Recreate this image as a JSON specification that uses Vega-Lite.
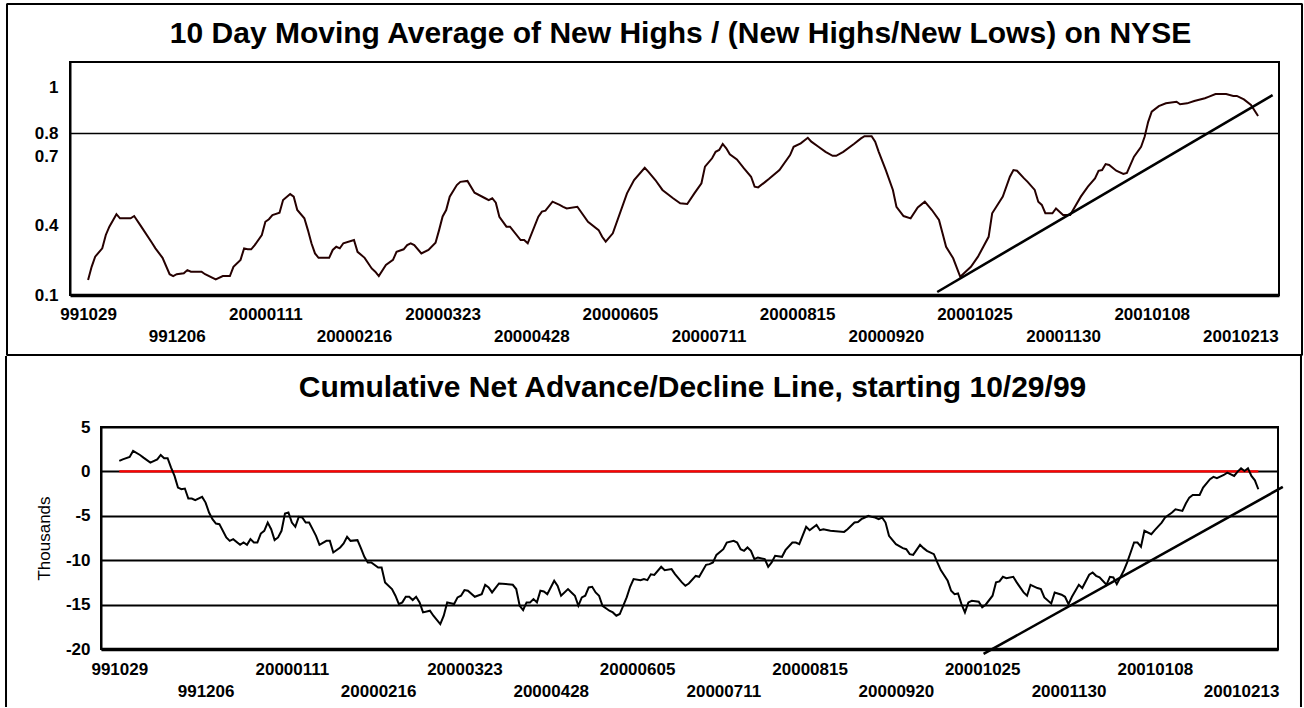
{
  "$schema": "https://vega.github.io/schema/vega-lite/v6.json",
  "background": "white",
  "padding": {"left": 3, "top": 1, "right": 0, "bottom": 0},
  "spacing": -4,
  "config": {
    "font": "Liberation Sans",
    "view": {"stroke": "black", "strokeWidth": 2},
    "axis": {
      "labelFont": "Liberation Sans",
      "labelFontSize": 17,
      "labelFontWeight": "bold",
      "labelColor": "black",
      "domainColor": "black",
      "ticks": false,
      "tickSize": 0,
      "grid": false,
      "labelOverlap": false,
      "labelFlush": false
    },
    "title": {"font": "Liberation Sans", "fontSize": 30, "fontWeight": "bold", "color": "black", "anchor": "middle", "frame": "group"}
  },
  "datasets": {
    "hl": [
      {"i":0,"v":0.165},{"i":1,"v":0.222},{"i":2,"v":0.266},{"i":4,"v":0.302},{"i":5,"v":0.36},{"i":6,"v":0.396},{"i":8,"v":0.45},{"i":9,"v":0.432},{"i":12,"v":0.432},{"i":13,"v":0.442},{"i":15,"v":0.396},{"i":18,"v":0.326},{"i":19,"v":0.302},{"i":21,"v":0.261},{"i":23,"v":0.19},{"i":24,"v":0.182},{"i":25,"v":0.19},{"i":27,"v":0.194},{"i":28,"v":0.208},{"i":29,"v":0.201},{"i":32,"v":0.201},{"i":33,"v":0.19},{"i":36,"v":0.168},{"i":38,"v":0.182},{"i":40,"v":0.182},{"i":41,"v":0.222},{"i":43,"v":0.252},{"i":44,"v":0.302},{"i":45,"v":0.298},{"i":46,"v":0.298},{"i":47,"v":0.316},{"i":49,"v":0.36},{"i":50,"v":0.417},{"i":51,"v":0.428},{"i":52,"v":0.446},{"i":54,"v":0.456},{"i":55,"v":0.511},{"i":57,"v":0.537},{"i":58,"v":0.526},{"i":59,"v":0.468},{"i":61,"v":0.432},{"i":62,"v":0.381},{"i":63,"v":0.324},{"i":64,"v":0.28},{"i":65,"v":0.261},{"i":68,"v":0.261},{"i":69,"v":0.295},{"i":70,"v":0.309},{"i":71,"v":0.302},{"i":72,"v":0.324},{"i":75,"v":0.338},{"i":76,"v":0.287},{"i":78,"v":0.261},{"i":80,"v":0.215},{"i":81,"v":0.201},{"i":82,"v":0.182},{"i":84,"v":0.23},{"i":86,"v":0.252},{"i":87,"v":0.287},{"i":89,"v":0.298},{"i":90,"v":0.316},{"i":91,"v":0.324},{"i":92,"v":0.316},{"i":94,"v":0.28},{"i":96,"v":0.295},{"i":98,"v":0.326},{"i":99,"v":0.381},{"i":100,"v":0.44},{"i":101,"v":0.468},{"i":102,"v":0.526},{"i":104,"v":0.576},{"i":105,"v":0.59},{"i":107,"v":0.594},{"i":109,"v":0.543},{"i":112,"v":0.519},{"i":113,"v":0.511},{"i":114,"v":0.519},{"i":115,"v":0.5},{"i":116,"v":0.439},{"i":118,"v":0.396},{"i":119,"v":0.396},{"i":122,"v":0.338},{"i":123,"v":0.338},{"i":124,"v":0.324},{"i":127,"v":0.439},{"i":128,"v":0.461},{"i":129,"v":0.465},{"i":131,"v":0.504},{"i":133,"v":0.49},{"i":134,"v":0.482},{"i":135,"v":0.475},{"i":138,"v":0.482},{"i":141,"v":0.417},{"i":144,"v":0.381},{"i":145,"v":0.352},{"i":146,"v":0.331},{"i":148,"v":0.367},{"i":152,"v":0.54},{"i":154,"v":0.598},{"i":157,"v":0.651},{"i":158,"v":0.634},{"i":160,"v":0.598},{"i":162,"v":0.555},{"i":165,"v":0.519},{"i":167,"v":0.497},{"i":169,"v":0.494},{"i":171,"v":0.54},{"i":173,"v":0.584},{"i":174,"v":0.656},{"i":176,"v":0.692},{"i":177,"v":0.72},{"i":178,"v":0.728},{"i":179,"v":0.754},{"i":180,"v":0.735},{"i":181,"v":0.709},{"i":183,"v":0.687},{"i":185,"v":0.648},{"i":187,"v":0.612},{"i":188,"v":0.569},{"i":189,"v":0.566},{"i":191,"v":0.59},{"i":192,"v":0.602},{"i":195,"v":0.641},{"i":198,"v":0.706},{"i":199,"v":0.742},{"i":201,"v":0.757},{"i":203,"v":0.781},{"i":204,"v":0.764},{"i":206,"v":0.742},{"i":208,"v":0.72},{"i":210,"v":0.703},{"i":211,"v":0.703},{"i":213,"v":0.72},{"i":216,"v":0.754},{"i":218,"v":0.778},{"i":219,"v":0.788},{"i":221,"v":0.788},{"i":222,"v":0.764},{"i":223,"v":0.72},{"i":225,"v":0.641},{"i":227,"v":0.555},{"i":228,"v":0.482},{"i":230,"v":0.442},{"i":232,"v":0.432},{"i":234,"v":0.479},{"i":236,"v":0.504},{"i":238,"v":0.468},{"i":240,"v":0.425},{"i":241,"v":0.367},{"i":242,"v":0.309},{"i":244,"v":0.259},{"i":246,"v":0.179},{"i":249,"v":0.222},{"i":251,"v":0.266},{"i":254,"v":0.352},{"i":255,"v":0.454},{"i":258,"v":0.526},{"i":260,"v":0.612},{"i":261,"v":0.641},{"i":262,"v":0.638},{"i":264,"v":0.605},{"i":265,"v":0.59},{"i":267,"v":0.555},{"i":268,"v":0.504},{"i":269,"v":0.49},{"i":270,"v":0.454},{"i":272,"v":0.454},{"i":273,"v":0.475},{"i":275,"v":0.446},{"i":277,"v":0.446},{"i":280,"v":0.526},{"i":282,"v":0.569},{"i":284,"v":0.605},{"i":285,"v":0.638},{"i":286,"v":0.641},{"i":287,"v":0.667},{"i":288,"v":0.663},{"i":290,"v":0.638},{"i":292,"v":0.624},{"i":293,"v":0.629},{"i":295,"v":0.699},{"i":297,"v":0.742},{"i":298,"v":0.785},{"i":299,"v":0.85},{"i":300,"v":0.894},{"i":302,"v":0.918},{"i":304,"v":0.93},{"i":307,"v":0.937},{"i":308,"v":0.926},{"i":310,"v":0.93},{"i":312,"v":0.94},{"i":315,"v":0.952},{"i":316,"v":0.958},{"i":318,"v":0.97},{"i":321,"v":0.97},{"i":323,"v":0.962},{"i":324,"v":0.962},{"i":326,"v":0.947},{"i":328,"v":0.923},{"i":330,"v":0.875}
    ],
    "ad": [
      {"i":0,"v":1.18},{"i":1,"v":1.36},{"i":3,"v":1.63},{"i":4,"v":2.3},{"i":6,"v":1.85},{"i":7,"v":1.55},{"i":9,"v":0.99},{"i":11,"v":1.36},{"i":12,"v":1.85},{"i":13,"v":1.48},{"i":14,"v":1.48},{"i":15,"v":0.43},{"i":16,"v":-0.51},{"i":17,"v":-1.82},{"i":18,"v":-2.01},{"i":19,"v":-1.93},{"i":20,"v":-3.06},{"i":21,"v":-3.06},{"i":22,"v":-3.25},{"i":24,"v":-2.87},{"i":25,"v":-3.51},{"i":26,"v":-4.63},{"i":27,"v":-5.38},{"i":28,"v":-5.87},{"i":29,"v":-5.94},{"i":31,"v":-7.44},{"i":32,"v":-7.82},{"i":33,"v":-7.63},{"i":35,"v":-8.27},{"i":36,"v":-8.01},{"i":37,"v":-8.27},{"i":38,"v":-7.63},{"i":39,"v":-8.01},{"i":40,"v":-8.01},{"i":41,"v":-7.0},{"i":42,"v":-6.69},{"i":43,"v":-5.76},{"i":44,"v":-6.51},{"i":45,"v":-7.74},{"i":46,"v":-7.44},{"i":47,"v":-6.69},{"i":48,"v":-4.75},{"i":49,"v":-4.63},{"i":50,"v":-5.76},{"i":51,"v":-6.24},{"i":52,"v":-5.12},{"i":53,"v":-5.19},{"i":54,"v":-5.76},{"i":55,"v":-5.76},{"i":56,"v":-6.5},{"i":57,"v":-7.26},{"i":58,"v":-8.27},{"i":60,"v":-7.82},{"i":61,"v":-7.82},{"i":62,"v":-9.13},{"i":64,"v":-8.57},{"i":65,"v":-8.12},{"i":66,"v":-7.37},{"i":67,"v":-7.82},{"i":69,"v":-7.74},{"i":70,"v":-8.64},{"i":71,"v":-9.62},{"i":72,"v":-10.25},{"i":73,"v":-10.25},{"i":75,"v":-10.82},{"i":76,"v":-10.82},{"i":77,"v":-12.5},{"i":79,"v":-13.25},{"i":80,"v":-14.0},{"i":81,"v":-14.94},{"i":82,"v":-14.75},{"i":83,"v":-14.12},{"i":84,"v":-14.12},{"i":85,"v":-14.49},{"i":86,"v":-14.12},{"i":87,"v":-14.75},{"i":88,"v":-15.88},{"i":90,"v":-15.69},{"i":91,"v":-16.25},{"i":93,"v":-17.19},{"i":94,"v":-16.25},{"i":95,"v":-14.75},{"i":97,"v":-14.94},{"i":98,"v":-14.19},{"i":99,"v":-14.0},{"i":100,"v":-13.37},{"i":101,"v":-13.44},{"i":103,"v":-14.12},{"i":105,"v":-13.82},{"i":106,"v":-12.77},{"i":107,"v":-13.07},{"i":108,"v":-13.63},{"i":110,"v":-12.62},{"i":112,"v":-12.69},{"i":114,"v":-12.77},{"i":115,"v":-13.25},{"i":116,"v":-15.13},{"i":117,"v":-15.61},{"i":118,"v":-14.75},{"i":119,"v":-14.75},{"i":120,"v":-14.38},{"i":121,"v":-14.75},{"i":122,"v":-13.44},{"i":123,"v":-13.52},{"i":124,"v":-13.82},{"i":126,"v":-12.32},{"i":127,"v":-12.89},{"i":128,"v":-14.0},{"i":130,"v":-13.25},{"i":131,"v":-13.63},{"i":132,"v":-14.0},{"i":133,"v":-15.13},{"i":134,"v":-14.19},{"i":135,"v":-14.0},{"i":136,"v":-13.07},{"i":137,"v":-12.99},{"i":138,"v":-13.63},{"i":139,"v":-14.0},{"i":140,"v":-15.13},{"i":142,"v":-15.69},{"i":143,"v":-15.88},{"i":144,"v":-16.25},{"i":145,"v":-16.06},{"i":147,"v":-14.19},{"i":148,"v":-12.99},{"i":149,"v":-12.13},{"i":151,"v":-12.25},{"i":152,"v":-12.13},{"i":153,"v":-12.25},{"i":154,"v":-11.59},{"i":155,"v":-11.66},{"i":157,"v":-10.74},{"i":158,"v":-11.12},{"i":160,"v":-11.0},{"i":161,"v":-11.57},{"i":163,"v":-12.5},{"i":164,"v":-12.88},{"i":165,"v":-12.62},{"i":167,"v":-11.77},{"i":168,"v":-11.87},{"i":170,"v":-10.52},{"i":171,"v":-10.44},{"i":172,"v":-10.25},{"i":173,"v":-9.4},{"i":175,"v":-8.76},{"i":176,"v":-8.01},{"i":178,"v":-7.82},{"i":179,"v":-8.01},{"i":180,"v":-8.76},{"i":181,"v":-8.94},{"i":182,"v":-8.57},{"i":183,"v":-8.94},{"i":184,"v":-9.88},{"i":185,"v":-9.69},{"i":187,"v":-9.88},{"i":188,"v":-10.74},{"i":189,"v":-10.25},{"i":190,"v":-9.5},{"i":192,"v":-9.62},{"i":193,"v":-8.87},{"i":195,"v":-8.01},{"i":196,"v":-8.01},{"i":197,"v":-8.19},{"i":199,"v":-6.24},{"i":200,"v":-6.62},{"i":202,"v":-6.02},{"i":203,"v":-6.62},{"i":204,"v":-6.51},{"i":206,"v":-6.69},{"i":210,"v":-6.81},{"i":211,"v":-6.51},{"i":213,"v":-5.76},{"i":214,"v":-5.7},{"i":215,"v":-5.38},{"i":216,"v":-5.19},{"i":217,"v":-5.0},{"i":218,"v":-5.12},{"i":219,"v":-5.19},{"i":220,"v":-5.38},{"i":221,"v":-5.19},{"i":222,"v":-5.76},{"i":223,"v":-7.26},{"i":225,"v":-8.19},{"i":227,"v":-8.64},{"i":228,"v":-8.76},{"i":229,"v":-9.32},{"i":230,"v":-9.4},{"i":232,"v":-8.27},{"i":233,"v":-8.64},{"i":234,"v":-8.94},{"i":236,"v":-9.32},{"i":237,"v":-10.25},{"i":238,"v":-11.12},{"i":240,"v":-12.32},{"i":241,"v":-13.44},{"i":242,"v":-13.82},{"i":243,"v":-13.74},{"i":244,"v":-14.94},{"i":245,"v":-15.88},{"i":246,"v":-14.75},{"i":247,"v":-14.57},{"i":249,"v":-14.68},{"i":250,"v":-15.31},{"i":251,"v":-15.01},{"i":253,"v":-14.0},{"i":254,"v":-12.5},{"i":255,"v":-12.39},{"i":256,"v":-11.87},{"i":257,"v":-12.02},{"i":259,"v":-11.87},{"i":260,"v":-12.5},{"i":262,"v":-13.63},{"i":263,"v":-14.0},{"i":264,"v":-12.77},{"i":266,"v":-13.14},{"i":267,"v":-13.25},{"i":268,"v":-14.19},{"i":270,"v":-14.87},{"i":271,"v":-13.63},{"i":273,"v":-13.89},{"i":274,"v":-14.12},{"i":275,"v":-14.94},{"i":276,"v":-14.12},{"i":278,"v":-12.77},{"i":279,"v":-13.14},{"i":281,"v":-11.64},{"i":282,"v":-11.38},{"i":283,"v":-11.76},{"i":284,"v":-11.94},{"i":286,"v":-12.77},{"i":287,"v":-11.87},{"i":288,"v":-11.94},{"i":289,"v":-12.69},{"i":291,"v":-11.19},{"i":292,"v":-10.25},{"i":293,"v":-9.13},{"i":294,"v":-8.01},{"i":295,"v":-8.01},{"i":296,"v":-8.49},{"i":297,"v":-6.69},{"i":299,"v":-7.07},{"i":300,"v":-6.62},{"i":302,"v":-5.76},{"i":303,"v":-5.19},{"i":305,"v":-4.63},{"i":306,"v":-4.26},{"i":308,"v":-4.45},{"i":309,"v":-3.62},{"i":310,"v":-2.95},{"i":311,"v":-2.65},{"i":313,"v":-2.65},{"i":314,"v":-1.82},{"i":316,"v":-0.88},{"i":317,"v":-0.62},{"i":318,"v":-0.77},{"i":320,"v":-0.4},{"i":321,"v":-0.13},{"i":323,"v":-0.51},{"i":324,"v":-0.02},{"i":325,"v":0.35},{"i":326,"v":0.05},{"i":327,"v":0.35},{"i":328,"v":-0.51},{"i":329,"v":-1.0},{"i":330,"v":-2.01}
    ],
    "trendTop": [{"i":239.5,"v":0.113},{"i":334.1,"v":0.966}],
    "trendBot": [{"i":250.4,"v":-20.56},{"i":337.1,"v":-1.75}]
  },
  "vconcat": [
    {
      "spacing": 0,
      "hconcat": [
        {"width": 1, "height": 1, "view": {"stroke": null}, "data": {"values": []}, "mark": "point", "encoding": {}},
        {
          "width": 1209,
          "height": 233,
          "title": {"text": "10 Day Moving Average of New Highs / (New Highs/New Lows) on NYSE", "offset": 0, "dy": 46, "dx": 6},
          "layer": [
            {
              "data": {"name": "hl"},
              "mark": {"type": "line", "color": "#260000", "strokeWidth": 2},
              "encoding": {
                "x": {
                  "field": "i", "type": "quantitative",
                  "scale": {"domain": [-5.1, 335.9], "nice": false, "zero": false},
                  "axis": {
                    "title": null,
                    "values": [0,25,50,75,100,125,150,175,200,225,250,275,300,325],
                    "labelExpr": "datum.value % 50 == 0 ? ['991029','991206','20000111','20000216','20000323','20000428','20000605','20000711','20000815','20000920','20001025','20001130','20010108','20010213'][datum.value/25] : ['', ['991029','991206','20000111','20000216','20000323','20000428','20000605','20000711','20000815','20000920','20001025','20001130','20010108','20010213'][datum.value/25]]",
                    "labelPadding": 11,
                    "labelLineHeight": 22,
                    "domainWidth": 3.5
                  }
                },
                "y": {
                  "field": "v", "type": "quantitative",
                  "scale": {"domain": [0.1, 1.109], "nice": false, "zero": false},
                  "axis": {
                    "title": null,
                    "values": [0.1, 0.4, 0.7, 0.8, 1],
                    "labelExpr": "'' + datum.value",
                    "labelPadding": 12,
                    "domainWidth": 2,
                    "grid": true,
                    "gridColor": "black",
                    "gridWidth": 1.6,
                    "gridOpacity": {"condition": {"test": "datum.value == 0.8", "value": 1}, "value": 0}
                  }
                }
              }
            },
            {
              "data": {"name": "trendTop"},
              "mark": {"type": "line", "color": "black", "strokeWidth": 2.6, "clip": false},
              "encoding": {
                "x": {"field": "i", "type": "quantitative"},
                "y": {"field": "v", "type": "quantitative"}
              }
            },
            {
              "data": {"values": [{}]},
              "mark": {"type": "rect", "filled": false, "stroke": "black", "strokeWidth": 2, "strokeJoin": "bevel", "clip": false},
              "encoding": {
                "x": {"datum": -22.87, "type": "quantitative"},
                "x2": {"datum": 342.39},
                "y": {"datum": 1.3602, "type": "quantitative"},
                "y2": {"datum": -0.1598}
              }
            }
          ]
        }
      ]
    },
    {
      "spacing": 0,
      "hconcat": [
        {"width": 1, "height": 1, "view": {"stroke": null}, "data": {"values": []}, "mark": "point", "encoding": {}},
        {
          "width": 1177,
          "height": 222,
          "title": {"text": "Cumulative Net Advance/Decline Line, starting 10/29/99", "offset": 0, "dy": 48, "dx": 3},
          "layer": [
            {
              "data": {"name": "ad"},
              "mark": {"type": "rule", "color": "#ff0000", "strokeWidth": 2.4},
              "encoding": {
                "x": {
                  "aggregate": "min", "field": "i", "type": "quantitative",
                  "scale": {"domain": [-5.3, 335.7], "nice": false, "zero": false},
                  "axis": {
                    "title": null,
                    "values": [0,25,50,75,100,125,150,175,200,225,250,275,300,325],
                    "labelExpr": "datum.value % 50 == 0 ? ['991029','991206','20000111','20000216','20000323','20000428','20000605','20000711','20000815','20000920','20001025','20001130','20010108','20010213'][datum.value/25] : ['', ['991029','991206','20000111','20000216','20000323','20000428','20000605','20000711','20000815','20000920','20001025','20001130','20010108','20010213'][datum.value/25]]",
                    "labelPadding": 12,
                    "labelLineHeight": 22,
                    "domainWidth": 3.5
                  }
                },
                "x2": {"aggregate": "max", "field": "i"},
                "y": {
                  "datum": 0, "type": "quantitative",
                  "scale": {"domain": [-20, 5], "nice": false, "zero": false},
                  "axis": {
                    "title": "Thousands",
                    "titleFontSize": 17,
                    "titleFontWeight": "normal",
                    "titleFont": "Liberation Sans",
                    "titleColor": "black",
                    "titlePadding": 12,
                    "values": [-20, -15, -10, -5, 0, 5],
                    "labelExpr": "'' + datum.value",
                    "labelPadding": 11,
                    "domainWidth": 2,
                    "grid": true,
                    "gridColor": "black",
                    "gridWidth": 2
                  }
                }
              }
            },
            {
              "data": {"name": "ad"},
              "mark": {"type": "line", "color": "black", "strokeWidth": 2},
              "encoding": {
                "x": {"field": "i", "type": "quantitative"},
                "y": {"field": "v", "type": "quantitative"}
              }
            },
            {
              "data": {"name": "trendBot"},
              "mark": {"type": "line", "color": "black", "strokeWidth": 2.6, "clip": false},
              "encoding": {
                "x": {"field": "i", "type": "quantitative"},
                "y": {"field": "v", "type": "quantitative"}
              }
            },
            {
              "data": {"values": [{}]},
              "mark": {"type": "rule", "color": "black", "strokeWidth": 2, "clip": false},
              "encoding": {
                "x": {"datum": -32.82, "type": "quantitative"},
                "y": {"datum": 13.0, "type": "quantitative"},
                "y2": {"datum": -26.53}
              }
            },
            {
              "data": {"values": [{}]},
              "mark": {"type": "rule", "color": "black", "strokeWidth": 2, "clip": false},
              "encoding": {
                "x": {"datum": 342.36, "type": "quantitative"},
                "y": {"datum": 13.0, "type": "quantitative"},
                "y2": {"datum": -26.53}
              }
            }
          ]
        }
      ]
    }
  ]
}
